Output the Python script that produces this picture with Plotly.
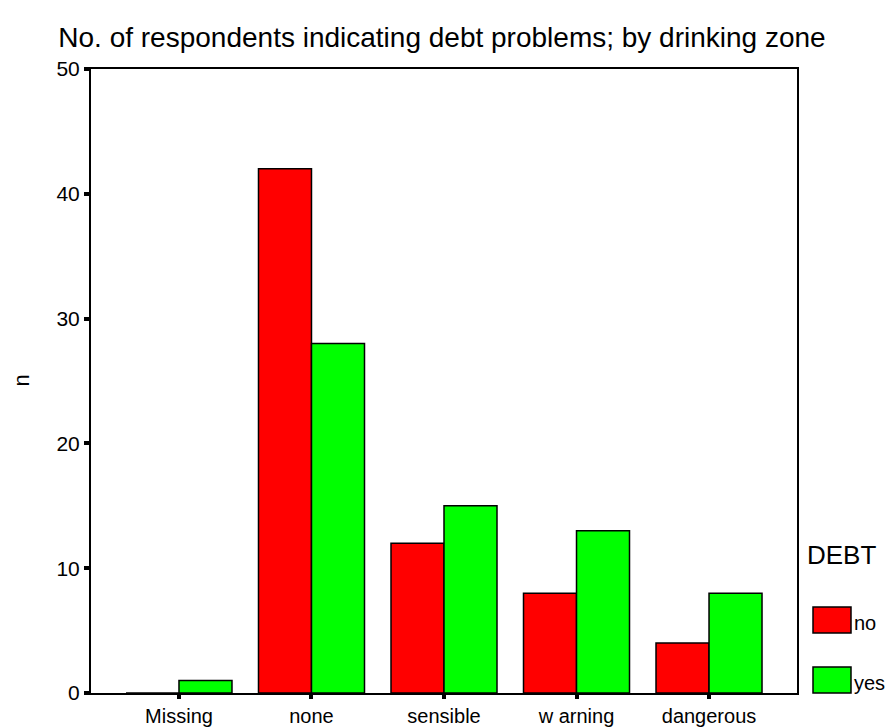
import plotly.graph_objects as go

categories = ["Missing", "none", "sensible", "w arning", "dangerous"]
debt_no = [0, 42, 12, 8, 4]
debt_yes = [1, 28, 15, 13, 8]
y_ticks = [0, 10, 20, 30, 40, 50]

OFF = 8  # page body margin
W, H = 893 - OFF, 727 - OFF
# plot area in page pixels: x 91..797, y 69..693
L = 91 - OFF
R = W - (797 - OFF)
T = 69 - OFF
B = H - (693 - OFF)
pw = W - L - R
ph = H - T - B

fig = go.Figure()
fig.add_trace(go.Bar(x=list(range(len(categories))), y=debt_no, name="no",
                     marker=dict(color="#FF0000", line=dict(color="black", width=1.5))))
fig.add_trace(go.Bar(x=list(range(len(categories))), y=debt_yes, name="yes",
                     marker=dict(color="#00FF00", line=dict(color="black", width=1.5))))

font = "Liberation Sans, Arial, sans-serif"

def px_x(x):
    return (x - OFF - L) / pw

def px_y(y):
    return (H - B - (y - OFF)) / ph

shapes = []
annotations = []
# y axis title
annotations.append(dict(text="n", x=px_x(7), y=px_y(381), xref="paper", yref="paper",
                        xanchor="left", yanchor="middle", showarrow=False, textangle=-90,
                        borderpad=0,
                        font=dict(size=22, color="black", family=font)))
# custom legend
annotations.append(dict(text="DEBT", x=px_x(805), y=px_y(555), xref="paper", yref="paper",
                        xanchor="left", yanchor="middle", showarrow=False,
                        font=dict(size=26, color="black", family=font)))
for name, col, ytop in [("no", "#FF0000", 607), ("yes", "#00FF00", 667)]:
    shapes.append(dict(type="rect", xref="paper", yref="paper",
                       x0=px_x(813), x1=px_x(851), y0=px_y(ytop + 26), y1=px_y(ytop),
                       fillcolor=col, line=dict(color="black", width=1.5)))
    annotations.append(dict(text=name, x=px_x(852), y=px_y(ytop + 16), xref="paper", yref="paper",
                            xanchor="left", yanchor="middle", showarrow=False,
                            font=dict(size=20, color="black", family=font)))

fig.update_layout(
    width=W, height=H,
    margin=dict(l=L, r=R, t=T, b=B, pad=0, autoexpand=False),
    paper_bgcolor="white", plot_bgcolor="white",
    barmode="group", bargap=0.2, bargroupgap=0,
    showlegend=False,
    font=dict(family=font, size=21, color="black"),
    title=dict(text="No. of respondents indicating debt problems; by drinking zone",
               x=442 / W - OFF / W, xanchor="center", y=1 - (37 - OFF) / H, yanchor="middle",
               yref="container", font=dict(size=28, color="black", family=font)),
    xaxis=dict(tickmode="array", tickvals=list(range(len(categories))), ticktext=categories,
               range=[-0.664, 4.664], showgrid=False, zeroline=False,
               showline=True, linecolor="black", linewidth=2, mirror=True,
               ticks="outside", ticklen=4, tickwidth=4, tickcolor="black",
               tickfont=dict(size=20), automargin=False, fixedrange=True),
    yaxis=dict(range=[0, 50], tickvals=y_ticks, showgrid=False, zeroline=False,
               showline=True, linecolor="black", linewidth=2, mirror=True,
               ticks="outside", ticklen=5, tickwidth=4, tickcolor="black",
               tickfont=dict(size=21), automargin=False, fixedrange=True),
    shapes=shapes, annotations=annotations,
)

fig.write_html("out.html")
